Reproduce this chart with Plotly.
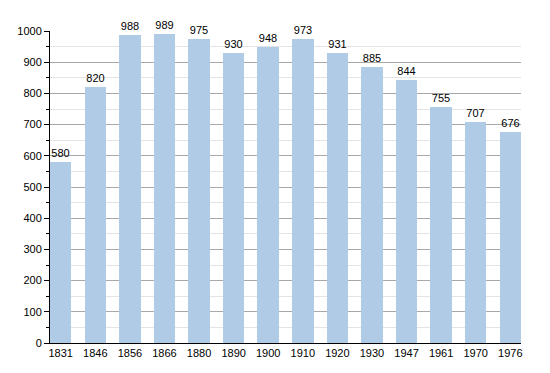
import plotly.graph_objects as go

years = ["1831", "1846", "1856", "1866", "1880", "1890", "1900", "1910", "1920", "1930", "1947", "1961", "1970", "1976"]
population = [580, 820, 988, 989, 975, 930, 948, 973, 931, 885, 844, 755, 707, 676]

fig = go.Figure(go.Bar(
    x=list(range(len(years))),
    y=population,
    width=0.62,
    marker=dict(color="#b0cbe6", line=dict(width=0)),
    text=[str(v) for v in population],
    textposition="outside",
    textfont=dict(size=11, color="#000000"),
    cliponaxis=False,
))

fig.update_layout(
    width=550, height=373,
    margin=dict(l=42, r=37, t=23, b=38, autoexpand=False),
    paper_bgcolor="white", plot_bgcolor="white",
    font=dict(family="Liberation Sans, Arial, sans-serif", size=11, color="#000000"),
    showlegend=False,
    bargap=0,
)
fig.update_xaxes(
    range=[-0.31, len(years) - 1 + 0.31],
    tickmode="array", tickvals=list(range(len(years))), ticktext=years,
    showgrid=False, showline=True, linecolor="#000000", linewidth=1,
    ticks="", zeroline=False, fixedrange=True,
)
fig.update_yaxes(
    range=[0, 1000], dtick=100, tick0=0,
    showgrid=True, gridcolor="#a8a8a8", gridwidth=1,
    showline=True, linecolor="#000000", linewidth=1,
    ticks="outside", ticklen=5, tickcolor="#000000",
    minor=dict(dtick=50, showgrid=True, gridcolor="#e4e4e4", ticks="outside", ticklen=3, tickcolor="#000000"),
    zeroline=False, layer="below traces",
)

fig.write_html("out.html")
